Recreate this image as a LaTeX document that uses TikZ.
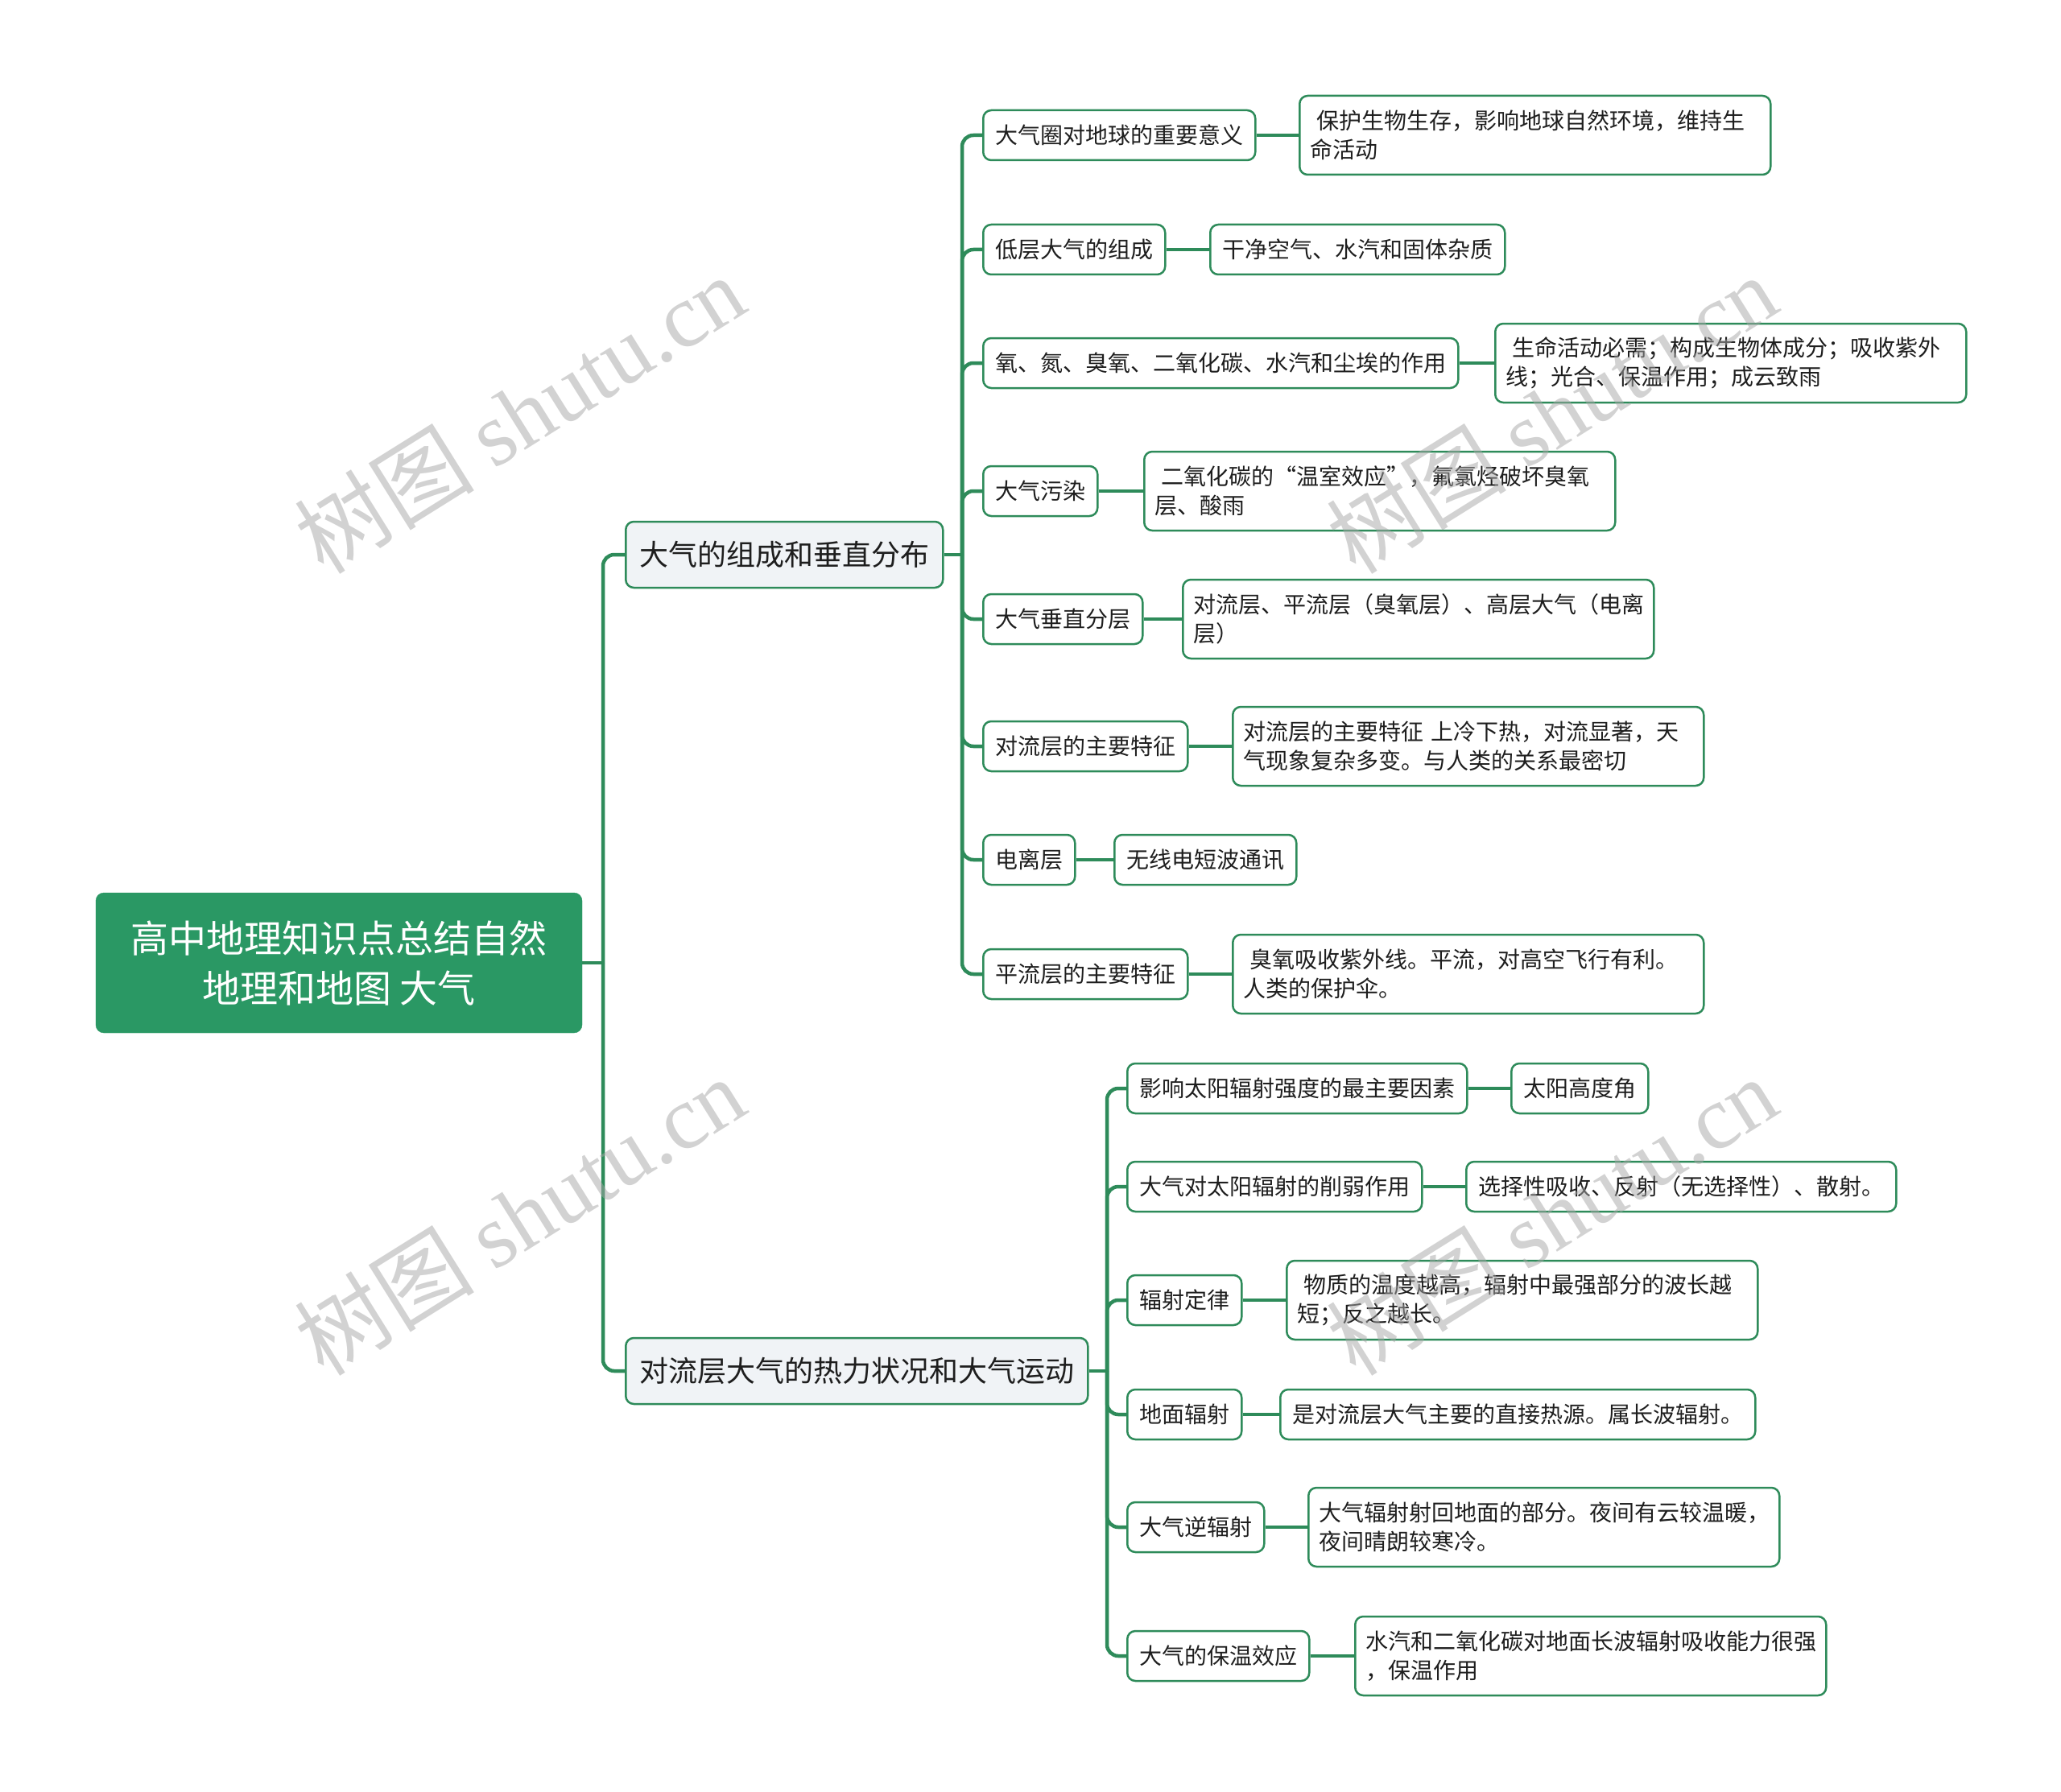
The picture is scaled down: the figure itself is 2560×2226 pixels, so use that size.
\documentclass[tikz,border=0pt]{standalone}
\usepackage{fontspec}
\setmainfont{Noto Sans CJK SC}
\newfontfamily\wmlatin{Liberation Serif}
\definecolor{lineg}{RGB}{46,139,90}
\definecolor{rootg}{RGB}{42,152,100}
\definecolor{lonefill}{RGB}{240,243,246}
\definecolor{txt}{RGB}{30,30,30}
\tikzset{
  conn/.style={draw=lineg, line width=4.5pt},
  rc/.style={rounded corners=14pt},
  box/.style={draw=lineg, line width=2.5pt, rounded corners=10pt, fill=white,
    inner xsep=15pt, inner ysep=0pt, minimum height=62pt, text=txt,
    font=\fontsize{28pt}{36pt}\selectfont, anchor=west},
  leaftwo/.style={box, minimum height=98pt, text width=559pt, inner xsep=13pt, align=left},
  lone/.style={box, fill=lonefill, minimum height=82pt, inner xsep=17pt,
    font=\fontsize{36pt}{44pt}\selectfont},
  rootbox/.style={fill=rootg, draw=rootg, rounded corners=10pt, text=white,
    minimum width=604pt, minimum height=174pt, align=center,
    font=\fontsize{47pt}{62pt}\selectfont},
  wm/.style={text=black!35, text opacity=0.5, rotate=32,
    font=\fontsize{112pt}{112pt}\selectfont}
}
\begin{document}
\begin{tikzpicture}[x=1pt,y=-1pt]
\fill[white] (0,0) rectangle (2560,2226);
\useasboundingbox (0,0) rectangle (2560,2226);

% root and level 1
\node[rootbox] (root) at (421,1196) {高中地理知识点总结自然\\地理和地图 大气};
\node[lone] (A) at (776,689) {大气的组成和垂直分布};
\node[lone] (B) at (776,1703) {对流层大气的热力状况和大气运动};

\coordinate (t0) at (749,0);
\coordinate (ta) at (1195,0);
\coordinate (tb) at (1375,0);

% group A
\node[box] (a1) at (1220,168) {大气圈对地球的重要意义};
\node[leaftwo] (a1l) at (1613,168) {\hspace{8pt}保护生物生存，影响地球自然环境，维持生\\命活动};
\node[box] (a2) at (1220,310) {低层大气的组成};
\node[box] (a2l) at (1502,310) {干净空气、水汽和固体杂质};
\node[box] (a3) at (1220,451) {氧、氮、臭氧、二氧化碳、水汽和尘埃的作用};
\node[leaftwo] (a3l) at (1856,451) {\hspace{8pt}生命活动必需；构成生物体成分；吸收紫外\\线；光合、保温作用；成云致雨};
\node[box] (a4) at (1220,610) {大气污染};
\node[leaftwo] (a4l) at (1420,610) {\hspace{8pt}二氧化碳的“温室效应”，氟氯烃破坏臭氧\\层、酸雨};
\node[box] (a5) at (1220,769) {大气垂直分层};
\node[leaftwo] (a5l) at (1468,769) {对流层、平流层（臭氧层）、高层大气（电离\\层）};
\node[box] (a6) at (1220,927) {对流层的主要特征};
\node[leaftwo] (a6l) at (1530,927) {对流层的主要特征 上冷下热，对流显著，天\\气现象复杂多变。与人类的关系最密切};
\node[box] (a7) at (1220,1068) {电离层};
\node[box] (a7l) at (1383,1068) {无线电短波通讯};
\node[box] (a8) at (1220,1210) {平流层的主要特征};
\node[leaftwo] (a8l) at (1530,1210) {\hspace{8pt}臭氧吸收紫外线。平流，对高空飞行有利。\\人类的保护伞。};

% group B
\node[box] (b1) at (1399,1352) {影响太阳辐射强度的最主要因素};
\node[box] (b1l) at (1876,1352) {太阳高度角};
\node[box] (b2) at (1399,1474) {大气对太阳辐射的削弱作用};
\node[box] (b2l) at (1820,1474) {选择性吸收、反射（无选择性）、散射。};
\node[box] (b3) at (1399,1615) {辐射定律};
\node[leaftwo] (b3l) at (1597,1615) {\hspace{8pt}物质的温度越高，辐射中最强部分的波长越\\短；反之越长。};
\node[box] (b4) at (1399,1757) {地面辐射};
\node[box] (b4l) at (1589,1757) {是对流层大气主要的直接热源。属长波辐射。};
\node[box] (b5) at (1399,1897) {大气逆辐射};
\node[leaftwo] (b5l) at (1624,1897) {大气辐射射回地面的部分。夜间有云较温暖，\\夜间晴朗较寒冷。};
\node[box] (b6) at (1399,2057) {大气的保温效应};
\node[leaftwo] (b6l) at (1682,2057) {水汽和二氧化碳对地面长波辐射吸收能力很强\\，保温作用};

% connectors
\draw[conn] (root.east) -- (root.east -| t0);
\foreach \c in {A,B} \draw[conn,rc] (root.east -| t0) |- (\c.west);
\draw[conn] (A.east) -- (A.east -| ta);
\foreach \c in {a1,a2,a3,a4,a5,a6,a7,a8} \draw[conn,rc] (A.east -| ta) |- (\c.west);
\draw[conn] (B.east) -- (B.east -| tb);
\foreach \c in {b1,b2,b3,b4,b5,b6} \draw[conn,rc] (B.east -| tb) |- (\c.west);
\foreach \c in {a1,a2,a3,a4,a5,a6,a7,a8,b1,b2,b3,b4,b5,b6} \draw[conn] (\c.east) -- (\c l.west);

% watermarks
\node[wm] (w1) at (645,514) {树图 {\wmlatin shutu.cn}};
\node[wm] (w2) at (645,1510) {树图 {\wmlatin shutu.cn}};
\node[wm] (w3) at (1927,514) {树图 {\wmlatin shutu.cn}};
\node[wm] (w4) at (1927,1510) {树图 {\wmlatin shutu.cn}};
\end{tikzpicture}
\end{document}
